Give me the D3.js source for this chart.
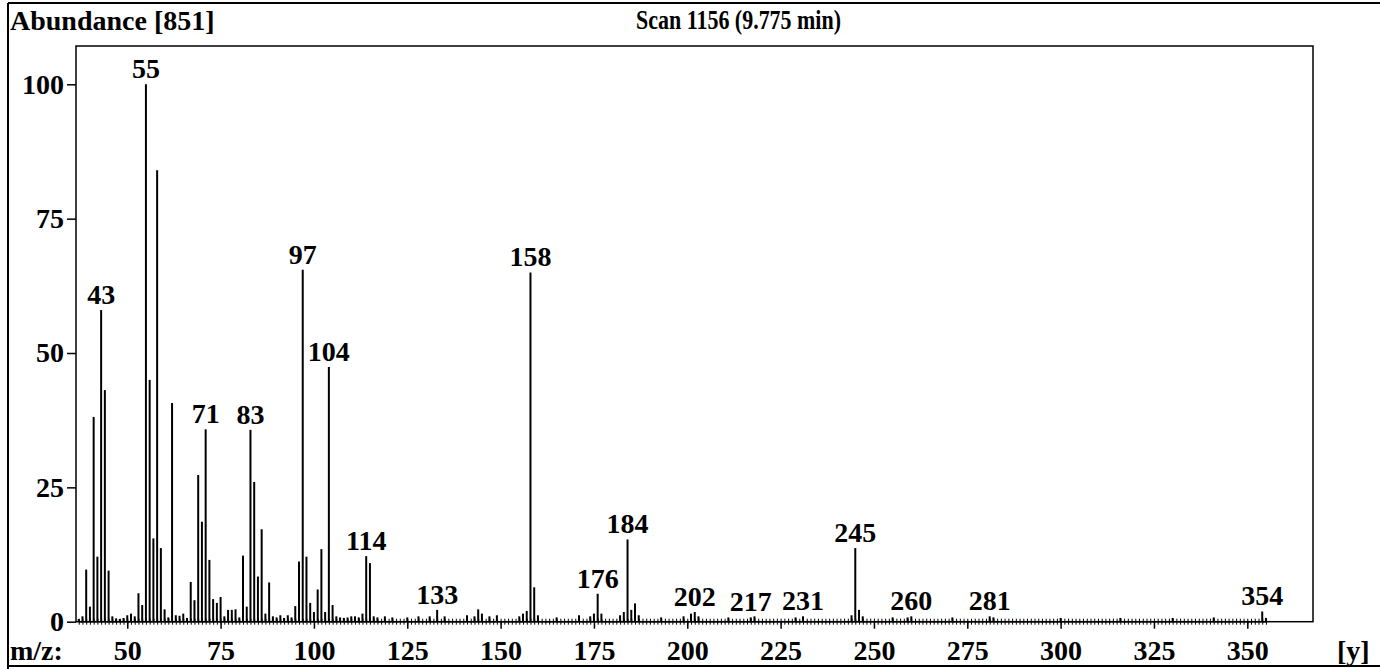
<!DOCTYPE html>
<html>
<head>
<meta charset="utf-8">
<script src="https://cdn.jsdelivr.net/npm/d3@7"></script>
<style>
  html, body { margin: 0; padding: 0; background: #fff; }
  svg { display: block; }
  text { font-family: "Liberation Serif", "Times New Roman", serif; font-weight: bold; fill: #000; }
</style>
</head>
<body>
<svg id="chart" width="1380" height="669"></svg>
<script>
// ---- data (m/z and relative abundance) ----
const mz = [37,38,39,40,41,42,43,44,45,46,47,48,49,50,51,52,53,54,55,56,57,58,59,60,61,62,63,64,65,66,67,68,69,70,
  71,72,73,74,75,76,77,78,79,80,81,82,83,84,85,86,87,88,89,90,91,92,93,94,95,96,97,98,99,100,101,102,103,104,105,
  106,107,108,109,110,111,112,113,114,115,116,117,119,121,125,128,131,133,135,141,143,144,145,147,149,155,156,157,
  158,159,160,165,171,174,175,176,177,182,183,184,185,186,187,193,199,201,202,203,211,217,218,229,231,244,245,246,
  247,255,259,260,271,281,282,300,316,330,341,354,355];
const abundance = [0.5,1,9.7,2.8,38.1,12.1,58,43.1,9.5,1,0.6,0.5,0.7,1.2,1.5,1,5.3,3.1,100,45,15.5,84,13.7,2.3,0.8,40.7,1.2,1.1,1.5,0.7,7.4,4,27.3,18.6,
  35.8,11.5,4.2,3.5,4.6,1,2.2,2.2,2.3,0.8,12.3,2.8,35.7,26,8.4,17.2,1.5,7.3,1,0.8,1.2,0.7,1.2,0.8,2.9,11.2,65.5,12.1,3.5,1.8,6,13.5,1.8,47.4,3.1,
  1,0.8,0.7,0.8,1,1,0.8,1.5,12.2,10.9,1,0.8,1,0.8,0.8,1,1,2.2,1,1.2,1,2.3,1.5,1,1.2,1,1.5,2,
  65,6.4,1.2,0.8,1.2,1,1.5,5.2,1.5,1.2,1.8,15.3,2.2,3.4,1.2,0.8,1,1.5,1.8,1,0.8,0.8,1,0.8,1,1.2,13.7,2.2,
  1,0.8,0.8,1,0.8,1,0.8,0.7,0.7,0.7,0.8,1.9,0.7];
const peakLabels = [43,55,71,83,97,104,114,133,158,176,184,202,217,231,245,260,281,354];
const yTicks = [0,25,50,75,100];
const xTicks = [50,75,100,125,150,175,200,225,250,275,300,325,350];
const headerLeft = "Abundance [851]";
const headerCenter = "Scan 1156 (9.775 min)";
const xAxisName = "m/z:";
const xAxisUnit = "[y]";

// ---- layout ----
const svg = d3.select("#chart");
const box = {left: 76, right: 1313, top: 46, bottom: 621.7};
const x = d3.scaleLinear().domain([36.27, 367.6]).range([box.left, box.right]);
const y = d3.scaleLinear().domain([0, 100]).range([box.bottom, 84.3]);
const FS = 28;

// outer frame lines
svg.append("line").attr("x1", 8).attr("x2", 1380).attr("y1", 3).attr("y2", 3).attr("stroke", "#000").attr("stroke-width", 2);
svg.append("line").attr("x1", 8).attr("x2", 8).attr("y1", 3).attr("y2", 669).attr("stroke", "#000").attr("stroke-width", 2);
svg.append("line").attr("x1", 8).attr("x2", 1380).attr("y1", 666).attr("y2", 666).attr("stroke", "#000").attr("stroke-width", 2);

// plot box
svg.append("rect").attr("x", box.left).attr("y", box.top)
  .attr("width", box.right - box.left).attr("height", box.bottom - box.top)
  .attr("fill", "none").attr("stroke", "#000").attr("stroke-width", 1.5);

// headers
svg.append("text").attr("x", 10).attr("y", 30).attr("font-size", FS).text(headerLeft);
svg.append("text").attr("x", 636).attr("y", 29).attr("font-size", 27)
  .attr("textLength", 205).attr("lengthAdjust", "spacingAndGlyphs").text(headerCenter);

// y axis
const yAxis = svg.append("g").attr("transform", `translate(${box.left},0)`)
  .call(d3.axisLeft(y).tickValues(yTicks).tickSize(9).tickPadding(3).tickFormat(d3.format("d")));
yAxis.select(".domain").remove();
yAxis.selectAll("line").attr("stroke", "#000").attr("stroke-width", 1.5);
yAxis.selectAll("text").attr("font-size", FS).attr("font-family", "Liberation Serif").attr("font-weight", "bold").attr("fill", "#000");

// minor ruler along baseline
const minor = d3.range(37, 356);
const rulerDown = svg.append("g").attr("transform", `translate(0,${box.bottom})`)
  .call(d3.axisBottom(x).tickValues(minor).tickSize(3).tickFormat(""));
rulerDown.select(".domain").remove();
rulerDown.selectAll("line").attr("stroke", "#000").attr("stroke-width", 1);
const rulerUp = svg.append("g").attr("transform", `translate(0,${box.bottom})`)
  .call(d3.axisTop(x).tickValues(minor).tickSize(3).tickFormat(""));
rulerUp.select(".domain").remove();
rulerUp.selectAll("line").attr("stroke", "#000").attr("stroke-width", 1);
svg.append("line").attr("x1", x(37)).attr("x2", x(355)).attr("y1", box.bottom).attr("y2", box.bottom)
  .attr("stroke", "#000").attr("stroke-width", 1.5);

// x axis (major)
const xAxis = svg.append("g").attr("transform", `translate(0,${box.bottom})`)
  .call(d3.axisBottom(x).tickValues(xTicks).tickSize(7).tickPadding(11).tickFormat(d3.format("d")));
xAxis.select(".domain").remove();
xAxis.selectAll("line").attr("stroke", "#000").attr("stroke-width", 1.5);
xAxis.selectAll("text").attr("font-size", FS).attr("font-family", "Liberation Serif").attr("font-weight", "bold").attr("fill", "#000");

svg.append("text").attr("x", 10).attr("y", 660).attr("font-size", FS).text(xAxisName);
svg.append("text").attr("x", 1337).attr("y", 660).attr("font-size", FS).text(xAxisUnit);

// spectrum sticks
const data = mz.map((m, i) => ({m, v: abundance[i]}));
svg.append("g").selectAll("line").data(data).join("line")
  .attr("x1", d => x(d.m)).attr("x2", d => x(d.m))
  .attr("y1", y(0)).attr("y2", d => y(d.v))
  .attr("stroke", "#000").attr("stroke-width", 2);

// peak labels
const lookup = new Map(data.map(d => [d.m, d.v]));
svg.append("g").selectAll("text").data(peakLabels).join("text")
  .attr("x", d => x(d)).attr("y", d => y(lookup.get(d)) - 6)
  .attr("text-anchor", "middle").attr("font-size", FS)
  .text(d => d);
</script>
</body>
</html>
